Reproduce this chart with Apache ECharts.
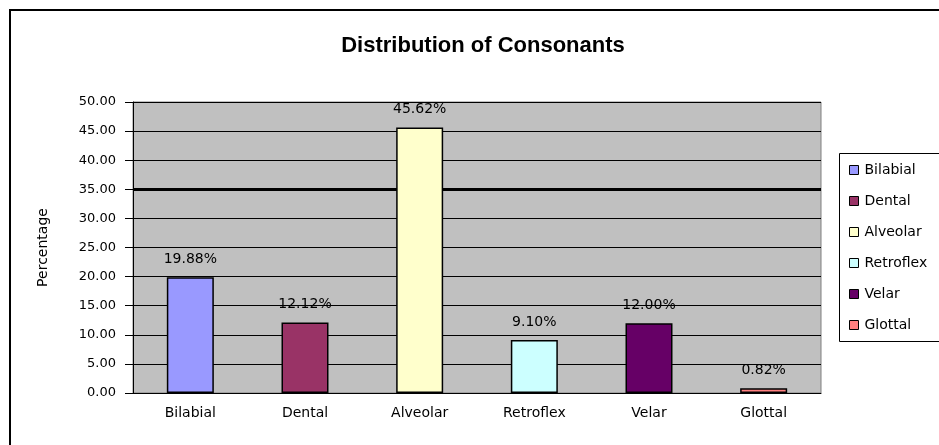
<!DOCTYPE html>
<html lang="en">
<head>
    <meta charset="UTF-8">
    <title>Distribution of Consonants</title>
    <script src="https://cdn.jsdelivr.net/npm/echarts@6/dist/echarts.min.js"></script>
    <style>
        html, body { margin: 0; padding: 0; background: #fff; }
        #main { width: 939px; height: 445px; }
    </style>
</head>
<body>
<div id="main"></div>
<script type="text/javascript">
    // data
    var categories = ['Bilabial', 'Dental', 'Alveolar', 'Retroflex', 'Velar', 'Glottal'];
    var values = [19.88, 12.12, 45.62, 9.10, 12.00, 0.82];
    var barColors = ['#9999FF', '#993366', '#FFFFCC', '#CCFFFF', '#660066', '#FF8080'];
    var yTicks = [0, 5, 10, 15, 20, 25, 30, 35, 40, 45, 50];

    var font = '"DejaVu Sans", Verdana, sans-serif';
    var titleFont = '"Liberation Sans", Arial, sans-serif';
    var myChart = echarts.init(document.getElementById('main'));

    // one series per category so each gets a legend entry; stacked so bars stay centred
    var series = categories.map(function (name, i) {
        var data = categories.map(function (c, j) { return j === i ? values[i] : '-'; });
        var s = {
            name: name,
            type: 'bar',
            stack: 'all',
            barWidth: 47,
            data: data,
            itemStyle: { color: barColors[i], borderColor: '#000', borderWidth: 1.5 },
            label: {
                show: true,
                position: 'top',
                distance: 11,
                color: '#000',
                fontFamily: font,
                fontSize: 14,
                formatter: function (p) { return p.value.toFixed(2) + '%'; }
            }
        };
        if (i === 0) {
            // the heavier 35.00 line sits behind the bars
            s.markLine = {
                silent: true,
                z: 1,
                symbol: 'none',
                label: { show: false },
                lineStyle: { color: '#000', width: 3, type: 'solid' },
                data: [{ yAxis: 35 }]
            };
        }
        return s;
    });

    var option = {
        animation: false,
        backgroundColor: '#fff',
        title: {
            text: 'Distribution of Consonants',
            left: 478,
            textAlign: 'center',
            top: 30,
            textStyle: { fontFamily: titleFont, fontSize: 22, fontWeight: 'bold', color: '#000' }
        },
        legend: {
            orient: 'vertical',
            left: 844,
            top: 158,
            itemWidth: 9,
            itemHeight: 9,
            itemGap: 17,
            icon: 'rect',
            data: categories,
            itemStyle: { borderColor: '#000', borderWidth: 1 },
            textStyle: { fontFamily: font, fontSize: 14, lineHeight: 14, color: '#000', padding: [0, 0, 0, 1] }
        },
        graphic: [
            {
                type: 'rect',
                shape: { x: 10, y: 10, width: 1000, height: 500 },
                style: { fill: 'none', stroke: '#000', lineWidth: 2 },
                silent: true
            },
            {
                type: 'rect',
                shape: { x: 839.5, y: 153.5, width: 150, height: 188 },
                style: { fill: 'none', stroke: '#000', lineWidth: 1 },
                silent: true
            }
        ],
        grid: {
            left: 133,
            right: 118,
            top: 102,
            bottom: 52,
            show: true,
            backgroundColor: '#C0C0C0',
            borderColor: '#808080',
            borderWidth: 1
        },
        xAxis: {
            type: 'category',
            data: categories,
            axisLine: { lineStyle: { color: '#000', width: 1 } },
            axisTick: { length: 7, lineStyle: { color: '#000' } },
            axisLabel: { color: '#000', fontFamily: font, fontSize: 14, margin: 13 }
        },
        yAxis: {
            type: 'value',
            min: yTicks[0],
            max: yTicks[yTicks.length - 1],
            interval: 5,
            name: 'Percentage',
            nameLocation: 'middle',
            nameRotate: 90,
            nameGap: 83,
            nameTextStyle: { color: '#000', fontFamily: font, fontSize: 14 },
            axisLine: { show: true, lineStyle: { color: '#000', width: 1 } },
            axisTick: { show: true, length: 8, lineStyle: { color: '#000' } },
            splitLine: { lineStyle: { color: '#000', width: 1 } },
            axisLabel: {
                color: '#000',
                fontFamily: font,
                fontSize: 13,
                margin: 17,
                formatter: function (v) { return v.toFixed(2); }
            }
        },
        series: series
    };

    myChart.setOption(option);
</script>
</body>
</html>
